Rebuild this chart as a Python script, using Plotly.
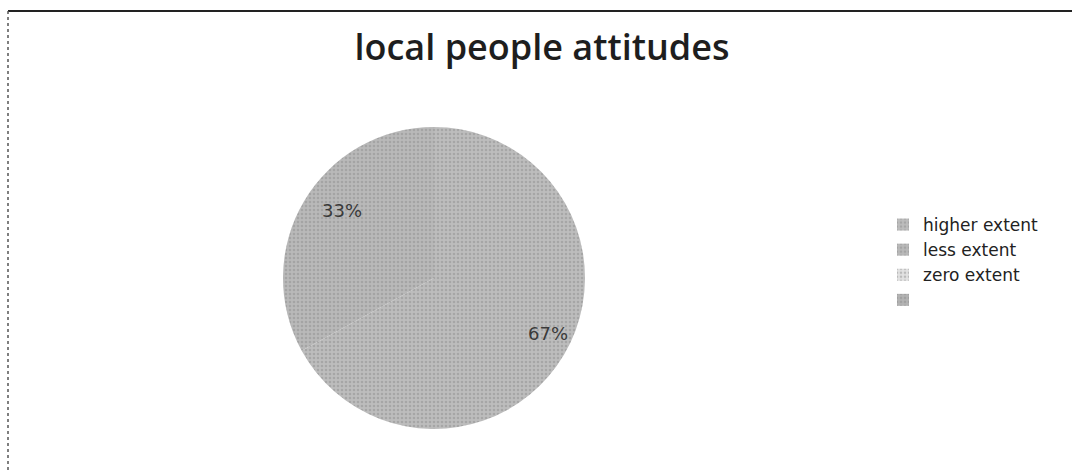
import numpy as np
import plotly.graph_objects as go

categories = ["higher extent", "less extent", "zero extent", " "]
values = [67, 33, 0, 0]
colors = ["#bdbdbd", "#b9b9b9", "#e2e2e2", "#b3b3b3"]
title_text = "local people attitudes"

W, H = 1072, 473

# pie placement (pixels)
pie_cx, pie_top, pie_bot = 434, 127, 429
dom_y = [(H - pie_bot) / H, (H - pie_top) / H]
diam = pie_bot - pie_top
dom_x = [(pie_cx - diam / 2) / W, (pie_cx + diam / 2) / W]

fig = go.Figure()
fig.add_trace(go.Pie(
    labels=categories,
    values=values,
    sort=False,
    direction="clockwise",
    rotation=0,
    marker=dict(
        colors=colors,
        line=dict(width=0),
        pattern=dict(shape=".", fgcolor="#8a8a8a", fgopacity=0.45,
                     size=4, solidity=0.35, fillmode="overlay"),
    ),
    textinfo="none",
    domain=dict(x=dom_x, y=dom_y),
    showlegend=True,
    hoverinfo="label+percent",
))

# percentage labels placed along each slice's bisector, computed from values
total = float(sum(values))
cum = np.cumsum([0] + values[:-1])
r_px = diam / 2
k = 0.88
annotations = []
for v, c in zip(values, cum):
    if v <= 0:
        continue
    mid = 2 * np.pi * (c + v / 2) / total
    px = pie_cx + k * r_px * np.sin(mid)
    py = (pie_top + pie_bot) / 2 - k * r_px * np.cos(mid)
    annotations.append(dict(
        x=px / W, y=1 - py / H, xref="paper", yref="paper",
        text=f"{round(100 * v / total)}%", showarrow=False,
        font=dict(family="DejaVu Sans", size=18, color="#3a3a3a"),
    ))

fig.update_layout(
    width=W, height=H,
    margin=dict(l=0, r=0, t=0, b=0),
    paper_bgcolor="white",
    plot_bgcolor="white",
    title=dict(
        text=title_text,
        x=542 / W, xanchor="center",
        y=1 - 47 / H, yanchor="middle",
        font=dict(family="Open Sans", size=36, color="#1e1e1e", weight=600),
    ),
    legend=dict(
        x=883 / W, xanchor="left",
        y=1 - 207 / H, yanchor="top",
        font=dict(family="DejaVu Sans", size=17, color="#222222"),
        itemsizing="constant",
        tracegroupgap=0,
        bgcolor="rgba(0,0,0,0)",
    ),
    annotations=annotations,
    shapes=[
        dict(type="line", xref="paper", yref="paper",
             x0=8 / W, x1=1.0, y0=1 - 11 / H, y1=1 - 11 / H,
             line=dict(color="#222222", width=2)),
        dict(type="line", xref="paper", yref="paper",
             x0=8 / W, x1=8 / W, y0=1 - 11 / H, y1=0,
             line=dict(color="#555555", width=1.5, dash="dot")),
    ],
)

fig.write_html("out.html")
